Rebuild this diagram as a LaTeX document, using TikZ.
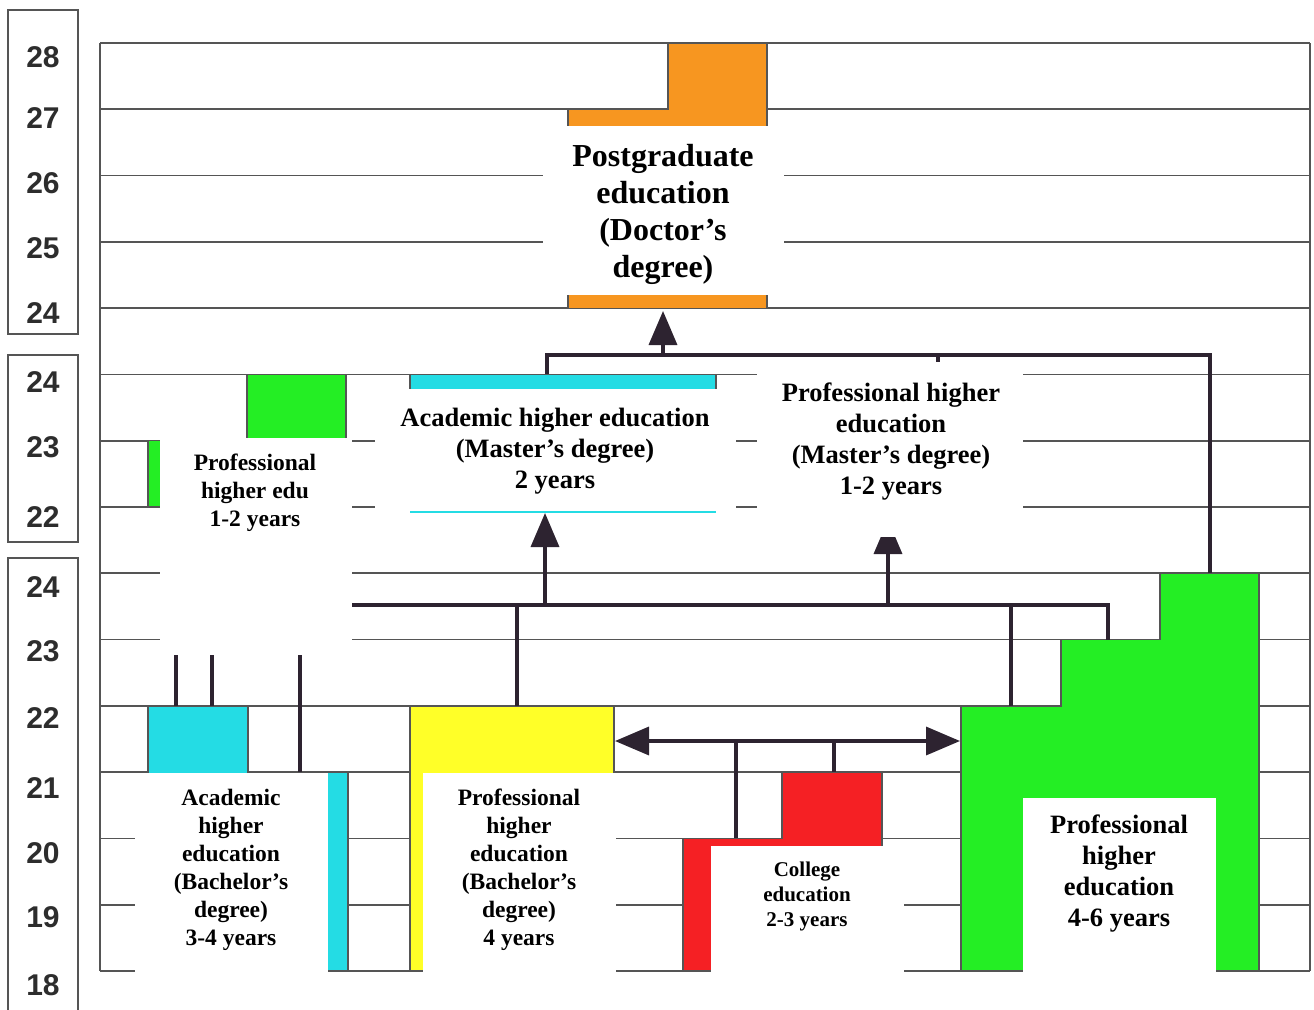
\documentclass[tikz,border=0pt]{standalone}
\usepackage{fontspec}
\setmainfont{Liberation Serif}
\newfontfamily\axisfont{Liberation Sans}
\usetikzlibrary{arrows.meta}
\definecolor{gridc}{RGB}{85,85,85}
\definecolor{connc}{RGB}{45,35,48}
\definecolor{orangef}{RGB}{247,150,32}
\definecolor{cyanf}{RGB}{36,220,228}
\definecolor{greenf}{RGB}{36,238,36}
\definecolor{yellowf}{RGB}{255,255,40}
\definecolor{redf}{RGB}{245,32,36}
\definecolor{numc}{RGB}{45,45,45}
\tikzset{
  gridline/.style={draw=gridc, line width=1.6pt},
  axisbox/.style={draw=gridc, line width=1.6pt},
  axisnum/.style={font=\axisfont\bfseries\fontsize{30}{30}\selectfont, text=numc, inner sep=0pt},
  shapeout/.style={draw=gridc, line width=1.2pt},
  conn/.style={draw=connc, line width=3.5pt},
  tip/.style={-{Triangle[length=34pt,width=28pt]}},
  dtip/.style={{Triangle[length=34pt,width=28pt]}-{Triangle[length=34pt,width=28pt]}},
  blank/.style={fill=white},
  lblL/.style={align=center, inner sep=0pt, font=\bfseries\fontsize{32}{37}\selectfont},
  lblM/.style={align=center, inner sep=0pt, font=\bfseries\fontsize{26.5}{31}\selectfont},
  lblS/.style={align=center, inner sep=0pt, font=\bfseries\fontsize{23.5}{28}\selectfont},
  lblXS/.style={align=center, inner sep=0pt, font=\bfseries\fontsize{21}{25}\selectfont},
}
\begin{document}
\begin{tikzpicture}[x=1pt,y=-1pt]
\useasboundingbox (0,0) rectangle (1314,1009);
\fill[white] (0,0) rectangle (1314,1009);

% grid
\foreach \i in {0,...,14}
  \draw[gridline] (100,{43+\i*928/14}) -- (1310,{43+\i*928/14});
\draw[gridline] (100,43) -- (100,971);
\draw[gridline] (1310,43) -- (1310,971);

% axis boxes
\draw[axisbox] (8,10) rectangle (78,334);
\draw[axisbox] (8,355) rectangle (78,542);
\draw[axisbox] (8,1012) -- (8,558) -- (78,558) -- (78,1012);
\node[axisnum] (a28) at (43,57) {28};
\node[axisnum] (a27) at (43,118) {27};
\node[axisnum] (a26) at (43,183) {26};
\node[axisnum] (a25) at (43,248) {25};
\node[axisnum] (a24a) at (43,313) {24};
\node[axisnum] (a24b) at (43,382) {24};
\node[axisnum] (a23b) at (43,447) {23};
\node[axisnum] (a22b) at (43,517) {22};
\node[axisnum] (a24c) at (43,587) {24};
\node[axisnum] (a23c) at (43,651) {23};
\node[axisnum] (a22c) at (43,718) {22};
\node[axisnum] (a21c) at (43,788) {21};
\node[axisnum] (a20c) at (43,853) {20};
\node[axisnum] (a19c) at (43,917) {19};
\node[axisnum] (a18c) at (43,985) {18};

% coloured blocks
\filldraw[fill=orangef, shapeout] (668,43) -- (767,43) -- (767,308.1) -- (568,308.1) -- (568,109.3) -- (668,109.3) -- cycle;
\filldraw[fill=greenf, shapeout] (148,507) -- (148,440.7) -- (247,440.7) -- (247,374.4) -- (346,374.4) -- (346,507) -- cycle;
\fill[cyanf] (410,374.4) rectangle (716,513);
\draw[shapeout] (410,400) -- (410,374.4) -- (716,374.4) -- (716,400);
\filldraw[fill=cyanf, shapeout] (148,705.9) -- (248,705.9) -- (248,772.1) -- (348,772.1) -- (348,971) -- (148,971) -- cycle;
\filldraw[fill=yellowf, shapeout] (410,705.9) rectangle (614,971);
\filldraw[fill=redf, shapeout] (782,772.1) -- (882,772.1) -- (882,971) -- (683,971) -- (683,838.4) -- (782,838.4) -- cycle;
\filldraw[fill=greenf, shapeout] (961,705.9) -- (1061,705.9) -- (1061,639.6) -- (1160,639.6) -- (1160,573.3) -- (1259,573.3) -- (1259,971) -- (961,971) -- cycle;

% connectors
\coordinate (docin) at (663,311);
\coordinate (j1) at (663,355);
\draw[conn, tip] (j1) -- (docin);
\draw[conn] (547,374.4) -- (547,355) -- (1210,355) -- (1210,573.3);
\draw[conn] (938,355) -- (938,400);
\draw[conn, tip] (545,605) -- (545,513);
\draw[conn, tip] (888,605) -- (888,520);
\draw[conn] (176,605) -- (1108,605) -- (1108,639.6);
\draw[conn] (1011,605) -- (1011,705.9);
\draw[conn] (517,605) -- (517,705.9);
\draw[conn] (176,605) -- (176,705.9);
\draw[conn] (212,605) -- (212,705.9);
\draw[conn] (300,605) -- (300,772.1);
\draw[conn, dtip] (615,741) -- (960,741);
\draw[conn] (736,741) -- (736,838.4);
\draw[conn] (834,741) -- (834,772.1);

% white label panels
\fill[blank] (543,126) rectangle (784,295);
\fill[blank] (375,389) rectangle (736,511);
\fill[blank] (757,362) rectangle (1023,537);
\fill[blank] (160,438) rectangle (352,655);
\fill[blank] (135,773) rectangle (328,1009);
\fill[blank] (423,773) rectangle (616,1009);
\fill[blank] (711,846) rectangle (904,1009);
\fill[blank] (1023,798) rectangle (1216,1009);

% labels
\node[lblL] (doc) at (663,214) {Postgraduate\\education\\(Doctor’s\\degree)};
\node[lblM] (amas) at (555,451) {Academic higher education\\(Master’s degree)\\2 years};
\node[lblM] (pmas) at (891,442) {Professional higher\\education\\(Master’s degree)\\1-2 years};
\node[lblS] (pedu) at (255,493) {Professional\\higher edu\\1-2 years};
\node[lblS] (abac) at (231,870) {Academic\\higher\\education\\(Bachelor’s\\degree)\\3-4 years};
\node[lblS] (pbac) at (519,870) {Professional\\higher\\education\\(Bachelor’s\\degree)\\4 years};
\node[lblXS] (coll) at (807,896) {College\\education\\2-3 years};
\node[lblM] (p46) at (1119,874) {Professional\\higher\\education\\4-6 years};
\end{tikzpicture}
\end{document}
